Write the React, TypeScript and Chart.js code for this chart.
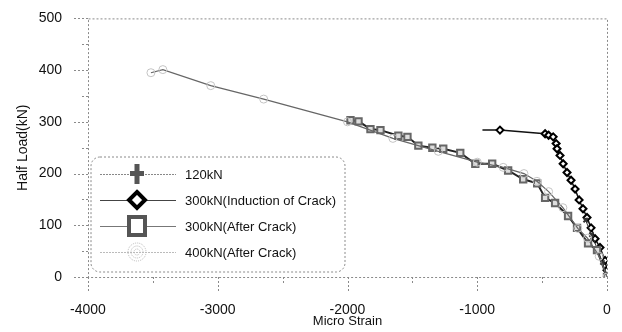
import React, { useEffect, useRef } from "react";
import { Chart, registerables } from "chart.js";
Chart.register(...registerables);

const xTicksMajor = [-4000, -3000, -2000, -1000, 0];
const yTicksMajor = [0, 100, 200, 300, 400, 500];

const s120X = [0, -35, -75, -120, -165];
const s120Y = [0, 28, 55, 82, 110];

const indX = [-960, -825, -477, -450, -415, -392, -385, -362, -338, -308, -277, -246, -215, -185, -154, -123, -92, -54, -15, 0];
const indY = [284, 284, 277, 274, 271, 258, 248, 235, 219, 202, 187, 170, 149, 132, 115, 95, 74, 57, 32, 13];

const sqX = [-1977, -1915, -1823, -1746, -1608, -1538, -1454, -1346, -1262, -1131, -1015, -885, -762, -646, -538, -477, -400, -300, -231, -146, -77, 0];
const sqY = [303, 301, 286, 284, 273, 271, 254, 250, 248, 240, 219, 219, 206, 189, 181, 153, 143, 118, 95, 65, 52, 0];

const s400X = [0, -60, -150, -225, -340, -450, -540, -640, -800, -1000, -1300, -1650, -2000, -2646, -3054, -3423, -3515];
const s400Y = [0, 40, 75, 94, 134, 165, 185, 200, 212, 222, 243, 268, 300, 344, 370, 401, 395];

const legendLabels = ["120kN", "300kN(Induction of Crack)", "300kN(After Crack)", "400kN(After Crack)"];

const FONT = "'Liberation Sans', Arial, sans-serif";

function pts(xs: number[], ys: number[]) {
  return xs.map((x, i) => ({ x, y: ys[i] }));
}

const framePlugin = {
  id: "frame",
  afterDraw(chart: any) {
    const ctx = chart.ctx;
    const { left, right, top, bottom } = chart.chartArea;
    const xs = chart.scales.x;
    const ys = chart.scales.y;
    ctx.save();
    ctx.strokeStyle = "#8a8a8a";
    ctx.lineWidth = 1;
    ctx.setLineDash([2, 2]);
    ctx.beginPath();
    ctx.rect(left + 0.5, top + 0.5, right - left, bottom - top);
    ctx.stroke();
    for (let v = -4000; v <= 0; v += 500) {
      const px = Math.round(xs.getPixelForValue(v)) + 0.5;
      const len = v % 1000 === 0 ? 16 : 8;
      ctx.beginPath();
      ctx.moveTo(px, bottom);
      ctx.lineTo(px, bottom + len);
      ctx.stroke();
    }
    for (let v = 0; v <= 500; v += 50) {
      const py = Math.round(ys.getPixelForValue(v)) + 0.5;
      const len = v % 100 === 0 ? 16 : 8;
      ctx.beginPath();
      ctx.moveTo(left, py);
      ctx.lineTo(left - len, py);
      ctx.stroke();
    }
    // legend
    const bx = 91, by = 157, bw = 254, bh = 115, r = 9;
    ctx.fillStyle = "#fff";
    ctx.beginPath();
    ctx.moveTo(bx + r, by);
    ctx.lineTo(bx + bw - r, by);
    ctx.arcTo(bx + bw, by, bx + bw, by + r, r);
    ctx.lineTo(bx + bw, by + bh - r);
    ctx.arcTo(bx + bw, by + bh, bx + bw - r, by + bh, r);
    ctx.lineTo(bx + r, by + bh);
    ctx.arcTo(bx, by + bh, bx, by + bh - r, r);
    ctx.lineTo(bx, by + r);
    ctx.arcTo(bx, by, bx + r, by, r);
    ctx.closePath();
    ctx.fill();
    ctx.stroke();
    ctx.setLineDash([]);
    const rows = [174, 200, 226, 252];
    const lineCols = ["#888", "#444", "#777", "#bbb"];
    rows.forEach((y, i) => {
      ctx.strokeStyle = lineCols[i];
      ctx.lineWidth = 1;
      if (i === 0 || i === 3) ctx.setLineDash([2, 1]);
      else ctx.setLineDash([]);
      ctx.beginPath();
      ctx.moveTo(100, y + 0.5);
      ctx.lineTo(176, y + 0.5);
      ctx.stroke();
      ctx.setLineDash([]);
      const cx = 137;
      if (i === 0) {
        ctx.fillStyle = "#555";
        ctx.fillRect(cx - 2.5, y - 10, 5, 20);
        ctx.fillRect(cx - 7, y - 3, 14, 5);
      } else if (i === 1) {
        ctx.fillStyle = "#fff";
        ctx.strokeStyle = "#000";
        ctx.lineWidth = 4;
        ctx.beginPath();
        ctx.moveTo(cx, y - 8);
        ctx.lineTo(cx + 8, y);
        ctx.lineTo(cx, y + 8);
        ctx.lineTo(cx - 8, y);
        ctx.closePath();
        ctx.fill();
        ctx.stroke();
      } else if (i === 2) {
        ctx.fillStyle = "#fff";
        ctx.strokeStyle = "#555";
        ctx.lineWidth = 4;
        ctx.beginPath();
        ctx.rect(cx - 8, y - 9, 16, 18);
        ctx.fill();
        ctx.stroke();
      } else {
        ctx.strokeStyle = "#bbb";
        ctx.lineWidth = 1;
        ctx.setLineDash([1, 1]);
        for (let rr = 3; rr <= 9; rr += 3) {
          ctx.beginPath();
          ctx.arc(cx, y, rr, 0, Math.PI * 2);
          ctx.stroke();
        }
        ctx.setLineDash([]);
      }
      ctx.fillStyle = "#111";
      ctx.font = `13px ${FONT}`;
      ctx.textBaseline = "middle";
      ctx.textAlign = "left";
      ctx.fillText(legendLabels[i], 185, y + 1);
    });
    ctx.restore();
  },
};

export default function App() {
  const ref = useRef<HTMLCanvasElement | null>(null);
  useEffect(() => {
    if (!ref.current) return;
    const chart = new Chart(ref.current, {
      type: "scatter",
      data: {
        datasets: [
          {
            label: legendLabels[3],
            data: pts(s400X, s400Y),
            showLine: true,
            borderColor: "#666",
            borderWidth: 1.2,
            pointStyle: "circle",
            pointRadius: 4,
            pointBorderColor: "#c4c4c4",
            pointBackgroundColor: "rgba(255,255,255,0)",
            pointBorderWidth: 1,
          },
          {
            label: legendLabels[2],
            data: pts(sqX, sqY),
            showLine: true,
            borderColor: "#222",
            borderWidth: 2,
            pointStyle: "rect",
            pointRadius: 4.5,
            pointBorderColor: "#666",
            pointBackgroundColor: "#ddd",
            pointBorderWidth: 2,
          },
          {
            label: legendLabels[0],
            data: pts(s120X, s120Y),
            showLine: true,
            borderColor: "#333",
            borderWidth: 1,
            pointStyle: "crossRot",
            pointRadius: 3,
            pointBorderColor: "#333",
            pointBorderWidth: 2,
          },
          {
            label: legendLabels[1],
            data: pts(indX, indY),
            showLine: true,
            borderColor: "#111",
            borderWidth: 1.5,
            pointStyle: "rectRot",
            pointRadius: (c: any) => (c.dataIndex === 0 ? 0 : 3.5),
            pointBorderColor: "#000",
            pointBackgroundColor: "#fff",
            pointBorderWidth: 2,
          },
        ],
      },
      options: {
        animation: false,
        responsive: false,
        maintainAspectRatio: false,
        layout: { padding: { left: 15, top: 15, right: 15, bottom: 0 } },
        plugins: { legend: { display: false }, tooltip: { enabled: false } },
        scales: {
          x: {
            type: "linear",
            min: -4000,
            max: 0,
            afterFit: (s: any) => { s.height = 55; },
            grid: { display: true, drawOnChartArea: false, drawTicks: true, tickLength: 16, color: "rgba(0,0,0,0)" },
            border: { display: false },
            ticks: {
              stepSize: 500,
              padding: 9,
              color: "#111",
              font: { family: FONT, size: 14 },
              maxRotation: 0,
              autoSkip: false,
              callback: (v: any) => (xTicksMajor.includes(Number(v)) ? String(v) : ""),
            },
            title: { display: true, text: "Micro Strain", color: "#111", font: { family: FONT, size: 13 }, padding: { top: 0, bottom: 3 } },
          },
          y: {
            type: "linear",
            min: 0,
            max: 500,
            afterFit: (s: any) => { s.width = 73; },
            grid: { display: true, drawOnChartArea: false, drawTicks: true, tickLength: 16, color: "rgba(0,0,0,0)" },
            border: { display: false },
            ticks: {
              stepSize: 50,
              padding: 10,
              color: "#111",
              font: { family: FONT, size: 14 },
              autoSkip: false,
              callback: (v: any) => (yTicksMajor.includes(Number(v)) ? String(v) : ""),
            },
            title: { display: true, text: "Half Load(kN)", color: "#111", font: { family: FONT, size: 14 }, padding: 0 },
          },
        },
      },
      plugins: [framePlugin],
    } as any);
    return () => chart.destroy();
  }, []);
  return (
    <div style={{ position: "absolute", left: 0, top: 0, width: 622, height: 332, background: "#fff" }}>
      <canvas ref={ref} width={622} height={332} style={{ width: 622, height: 332 }} />
    </div>
  );
}
